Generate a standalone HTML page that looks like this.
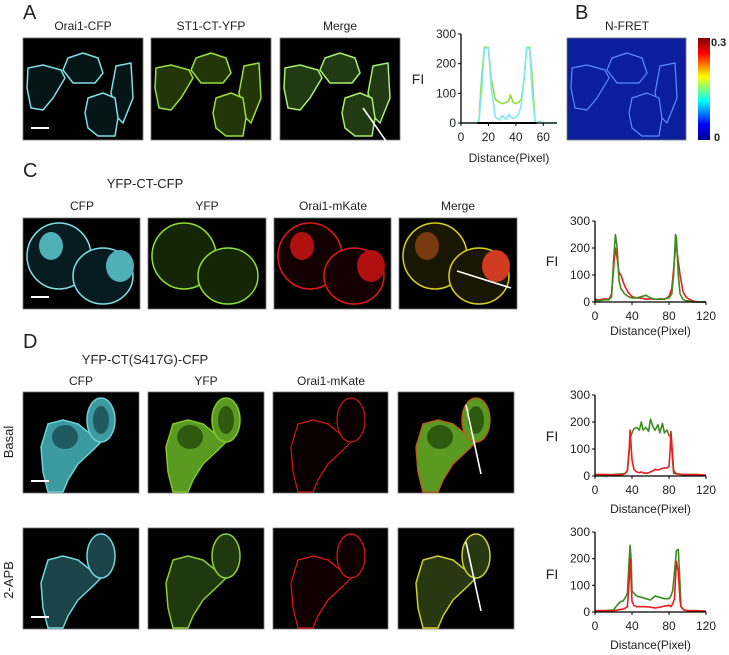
<!DOCTYPE html>
<html><head><meta charset="utf-8"><style>
html,body{margin:0;padding:0;background:#fff;}
svg{display:block;font-family:"Liberation Sans",sans-serif;}
</style></head><body>
<svg id="fig" width="729" height="655" viewBox="0 0 729 655">
<defs>
<linearGradient id="jet" x1="0" y1="1" x2="0" y2="0">
<stop offset="0" stop-color="#00008f"/><stop offset="0.15" stop-color="#0000ff"/><stop offset="0.38" stop-color="#00ffff"/><stop offset="0.62" stop-color="#ffff00"/><stop offset="0.85" stop-color="#ff0000"/><stop offset="1" stop-color="#800000"/>
</linearGradient>
</defs>
<g font-size="14" fill="#222">
<text x="23" y="19" font-size="20">A</text>
<text x="83" y="30" font-size="12" text-anchor="middle">Orai1-CFP</text>
<text x="211" y="30" font-size="12" text-anchor="middle">ST1-CT-YFP</text>
<text x="340" y="30" font-size="12" text-anchor="middle">Merge</text>
<text x="575" y="19" font-size="20">B</text>
<text x="627" y="30" font-size="12" text-anchor="middle">N-FRET</text>
<text x="711" y="46" font-size="11" font-weight="bold">0.3</text>
<text x="714" y="141" font-size="11" font-weight="bold">0</text>
<text x="23" y="177" font-size="20">C</text>
<text x="145" y="188" font-size="13" text-anchor="middle">YFP-CT-CFP</text>
<text x="82" y="210" font-size="12" text-anchor="middle">CFP</text>
<text x="207" y="210" font-size="12" text-anchor="middle">YFP</text>
<text x="333" y="210" font-size="12" text-anchor="middle">Orai1-mKate</text>
<text x="458" y="210" font-size="12" text-anchor="middle">Merge</text>
<text x="23" y="348" font-size="20">D</text>
<text x="145" y="364" font-size="13" text-anchor="middle">YFP-CT(S417G)-CFP</text>
<text x="81" y="385" font-size="12" text-anchor="middle">CFP</text>
<text x="206" y="385" font-size="12" text-anchor="middle">YFP</text>
<text x="331" y="385" font-size="12" text-anchor="middle">Orai1-mKate</text>
<text x="0" y="0" font-size="13" text-anchor="middle" transform="translate(13,442) rotate(-90)">Basal</text>
<text x="0" y="0" font-size="13" text-anchor="middle" transform="translate(13,580) rotate(-90)">2-APB</text>
</g>
<g id="imgs"></g>
<g id="plots"></g>
</svg>
<script>
// ---- chart data ----
const aDist = [0,12,13,15,17,20,22,25,28,30,33,35,36,38,40,42,44,46,48,50,52,54,58,60,70];
const aGreen = [0,0,5,150,255,255,150,80,70,65,70,75,95,70,65,70,80,150,255,255,150,0,0,0,0];
const aCyan = [0,0,3,100,250,255,120,20,10,25,12,30,20,15,20,30,60,150,255,250,100,0,5,0,0];
const aXTicks = [0,20,40,60];
const cDist = [0,5,10,15,18,20,22,24,26,28,32,36,40,45,50,55,60,65,70,75,80,83,85,87,88,90,92,95,98,102,105,110,120];
const cRed = [10,8,12,10,30,120,200,160,110,100,60,35,20,15,15,10,12,10,12,10,20,50,120,200,210,150,100,40,20,10,5,0,0];
const cGreen = [5,5,8,8,20,150,250,200,80,50,30,20,15,15,20,25,15,10,10,12,15,30,100,250,240,100,30,10,5,3,0,0,0];
const bDist = [0,10,20,30,33,35,37,38,40,42,45,48,50,52,55,58,60,63,65,68,70,73,75,78,80,81,82,83,85,88,95,110,120];
const bRed = [5,5,4,5,10,20,100,170,60,25,15,12,15,12,10,12,15,20,25,22,25,28,30,30,35,80,165,120,20,8,5,5,3];
const bGreen = [5,5,6,8,10,20,90,140,160,175,180,170,200,170,180,165,210,180,170,190,160,195,160,170,150,150,140,100,10,8,5,5,3];
const pDist = [0,10,20,25,28,30,33,35,37,38,39,40,42,45,50,55,60,65,70,75,80,82,84,86,88,90,92,93,96,100,110,120];
const pRed = [5,5,5,8,10,10,15,20,120,200,120,40,25,20,20,20,18,15,18,22,25,20,30,50,190,150,40,20,8,5,5,3];
const pGreen = [5,5,8,30,40,40,55,70,200,250,200,80,70,60,55,50,45,60,55,50,50,60,80,150,230,235,100,20,8,5,5,3];
const yTicks = [0,100,200,300];
const xTicks120 = [0,40,80,120];

const NS='http://www.w3.org/2000/svg';
function mk(tag,attrs,parent){const e=document.createElementNS(NS,tag);for(const k in attrs)e.setAttribute(k,attrs[k]);parent.appendChild(e);return e;}
const plots=document.getElementById('plots');

function drawPlot(id,xPx0,xPx1,xMax,yPx0,yPx300,xt,series,showDist,fiY){
  const g=mk('g',{},plots);
  
  
  const sx=v=>xPx0+(xPx1-xPx0)*v/xMax;
  const sy=v=>yPx0+(yPx300-yPx0)*v/300;
  series.forEach(s=>{
    let d='';
    s.x.forEach((v,i)=>{d+=(i?'L':'M')+sx(v).toFixed(1)+','+sy(s.y[i]).toFixed(1);});
    const p=mk('path',{d:d,fill:'none',stroke:s.c,'stroke-width':1.6,'stroke-linejoin':'round'},g);
    
    
  });
  const ax=mk('path',{d:'M'+xPx0+','+sy(300)+'L'+xPx0+','+yPx0+'L'+xPx1+','+yPx0,fill:'none',stroke:'#000','stroke-width':1.3},g);
  
  
  yTicks.forEach(v=>{
    mk('line',{x1:xPx0-3,x2:xPx0,y1:sy(v),y2:sy(v),stroke:'#000'},g);
    const t=mk('text',{x:xPx0-5,y:sy(v)+4,'font-size':12,'text-anchor':'end',fill:'#222'},g);
    t.textContent=v;
    
    
  });
  xt.forEach(v=>{
    mk('line',{x1:sx(v),x2:sx(v),y1:yPx0,y2:yPx0+3,stroke:'#000'},g);
    const t=mk('text',{x:sx(v),y:yPx0+18,'font-size':12,'text-anchor':'middle',fill:'#222'},g);
    t.textContent=v;
    
    
  });
  const f=mk('text',{x:552,y:fiY,'font-size':14,'text-anchor':'middle',fill:'#222'},g);
  if(id==='plot-a'){f.setAttribute('x',418);}
  f.textContent='FI';
  
  
  if(showDist){
    const t=mk('text',{x:(xPx0+xPx1)/2,y:showDist,'font-size':12,'text-anchor':'middle',fill:'#222'},g);
    t.textContent='Distance(Pixel)';
    
    
  }
  return {sx,sy,g};
}
const pa=drawPlot('plot-a',461,557,70,123,34,aXTicks,[
 {x:aDist,y:aGreen,c:'#8fe03a',n:'line-yfp'},{x:aDist,y:aCyan,c:'#7fe8f0',n:'line-cfp'}],162,84);
mk('line',{x1:pa.sx(12),x2:pa.sx(55),y1:123,y2:123,stroke:'#000','stroke-width':2},pa.g);
drawPlot('plot-c',595,706,120,302,221,xTicks120,[
 {x:cDist,y:cRed,c:'#ee1c1c',n:'line-mkate'},{x:cDist,y:cGreen,c:'#3c8c20',n:'line-yfp'}],335,266);
drawPlot('plot-d-basal',595,706,120,476,395,xTicks120,[
 {x:bDist,y:bGreen,c:'#3c8c20',n:'line-yfp'},{x:bDist,y:bRed,c:'#ee1c1c',n:'line-mkate'}],513,441);
drawPlot('plot-d-2apb',595,706,120,612,532,xTicks120,[
 {x:pDist,y:pGreen,c:'#3c8c20',n:'line-yfp'},{x:pDist,y:pRed,c:'#ee1c1c',n:'line-mkate'}],649,579);

// ---- microscopy images (schematic) ----
const imgs=document.getElementById('imgs');
function poly(pts){return 'M'+pts.map(p=>p.join(',')).join('L')+'Z';}
const cellsA=[poly([[5,30],[20,27],[38,32],[42,40],[30,60],[20,72],[8,70],[4,50]]),
 poly([[40,32],[45,20],[60,15],[75,20],[80,35],[72,45],[50,45]]),
 poly([[93,28],[108,25],[110,60],[100,85],[95,80],[88,55]]),
 poly([[65,60],[80,55],[92,60],[95,80],[92,98],[75,98],[65,90],[62,75]])];
const cellsC=['M4,38 A32,33 0 1 1 68,38 A32,33 0 1 1 4,38Z','M50,58 A30,28 0 1 1 110,58 A30,28 0 1 1 50,58Z'];
const cellsD=[poly([[25,32],[40,28],[55,32],[65,40],[72,45],[80,48],[70,58],[55,72],[45,88],[40,100],[25,100],[20,80],[18,55]]),
 'M64,28 A14,22 0 1 1 92,28 A14,22 0 1 1 64,28Z'];
function image(name,x,y,w,h,cells,stroke,fill,opts){
  const g=mk('g',{transform:'translate('+x+','+y+')'},imgs);
  
  
  mk('rect',{x:0,y:0,width:w,height:h,fill:opts.bg||'#000',stroke:'#777','stroke-width':0.8},g);
  const cg=mk('g',{},g);
  cells.forEach(d=>mk('path',{d:d,fill:fill,stroke:stroke,'stroke-width':opts.sw||1.5,'stroke-linejoin':'round'},cg));
  (opts.nuc||[]).forEach(n=>mk('ellipse',{cx:n[0],cy:n[1],rx:n[2],ry:n[3],fill:n[4]},cg));
  if(opts.bar)mk('line',{x1:8,x2:26,y1:h-12,y2:h-12,stroke:'#fff','stroke-width':2},g);
  if(opts.line)mk('line',{x1:opts.line[0],y1:opts.line[1],x2:opts.line[2],y2:opts.line[3],stroke:'#fff','stroke-width':1.6},g);
  return g;
}
// A
image('image-a-orai1-cfp',23,38,120,102,cellsA,'#7fe0e8','#061618',{bar:1});
image('image-a-st1-ct-yfp',151,38,120,102,cellsA,'#9be03a','#223608',{});
image('image-a-merge',280,38,120,102,cellsA,'#a8f070','#223a14',{line:[83,70,111,110]});
// B
image('image-b-n-fret',567,38,119,102,cellsA,'#5a8cff','#0b1f9c',{bg:'#0b1f9c',sw:1.2});
const cb=mk('rect',{x:698,y:38,width:12,height:102,fill:'url(#jet)'},imgs);


// C
const cnC=[[28,28,12,14],[97,48,14,16]];
image('image-c-cfp',23,218,117,91,cellsC,'#7fe0e8','#071c20',{bar:1,nuc:cnC.map(n=>n.concat('#4fb0b8'))});
image('image-c-yfp',148,218,118,91,cellsC,'#8fe030','#142606',{nuc:[]});
image('image-c-mkate',274,218,117,91,cellsC,'#e01a1a','#140101',{nuc:cnC.map(n=>n.concat('#b01010'))});
image('image-c-merge',399,218,118,91,cellsC,'#d8d020','#1a1604',{nuc:[[28,28,12,14,'#7a3a10'],[97,48,14,16,'#d03a20']],line:[58,53,112,70]});
// D basal
const dnuc=[[42,45,13,12],[78,28,8,14]];
image('image-d-basal-cfp',23,392,116,101,cellsD,'#70d0d8','#3a9aa0',{bar:1,nuc:dnuc.map(n=>n.concat('#1e5a60'))});
image('image-d-basal-yfp',148,392,116,101,cellsD,'#80c830','#5a9a20',{nuc:dnuc.map(n=>n.concat('#2e5a10'))});
image('image-d-basal-mkate',273,392,115,101,cellsD,'#d01818','#0a0000',{sw:1.2});
image('image-d-basal-merge',398,392,116,101,cellsD,'#b06020','#5a9a20',{nuc:dnuc.map(n=>n.concat('#2e5a10')),line:[68,13,83,82]});
// D 2-APB
image('image-d-2apb-cfp',23,528,116,101,cellsD,'#70d8e0','#1a4448',{bar:1});
image('image-d-2apb-yfp',148,528,116,101,cellsD,'#8fd030','#203810',{});
image('image-d-2apb-mkate',273,528,115,101,cellsD,'#e01818','#100000',{sw:1.2});
image('image-d-2apb-merge',398,528,116,101,cellsD,'#d0d030','#283810',{line:[68,14,83,83]});
</script>
</body></html>
